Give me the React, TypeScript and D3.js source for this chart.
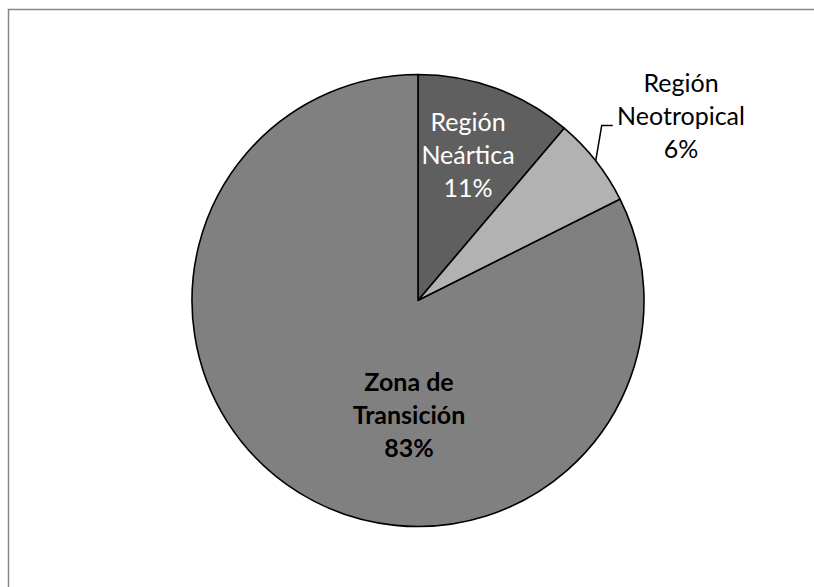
import React from "react";
import * as d3 from "d3";

const categories = ["Región Neártica", "Región Neotropical", "Zona de Transición"];
const values = [11.2, 6.4, 82.4];
const percentLabels = ["11%", "6%", "83%"];
const labelLines = [["Región", "Neártica"], ["Región", "Neotropical"], ["Zona de", "Transición"]];
const colors = ["#5f5f5f", "#b2b2b2", "#808080"];

const W = 814, H = 587;
const cx = 418, cy = 300.5, R = 226;
const FONT = "Lato, 'Open Sans', sans-serif";
const LH = 33;

export default function App() {
  const data = categories.map((c, i) => ({ c, v: values[i], i }));
  const pie = d3.pie<any>().sort(null).value((d) => d.v).startAngle(0).endAngle(2 * Math.PI);
  const arcs = pie(data);
  const arc = d3.arc<any>().innerRadius(0).outerRadius(R);

  // label anchors (first baseline of text block), relative to pie centre
  const labelPos = [
    { x: cx + 50, y: cy - 170, fill: "#ffffff", weight: 400 },
    { x: cx + 263, y: cy - 209, fill: "#000000", weight: 400 },
    { x: cx - 9, y: cy + 90, fill: "#000000", weight: 700 },
  ];

  const neo = arcs[1];
  const mid = (neo.startAngle + neo.endAngle) / 2;
  const p0 = [cx + R * Math.sin(mid), cy - R * Math.cos(mid)];
  const p1 = [p0[0] + 6, cy - 175];
  const p2 = [p1[0] + 11, p1[1]];

  return (
    <svg width={W} height={H} style={{ position: "absolute", left: 0, top: 0, background: "#fff" }}>
      <rect x={8.5} y={9.5} width={W} height={H} fill="#fff" stroke="#868686" strokeWidth={1.5} />
      <g transform={`translate(${cx},${cy})`}>
        {arcs.map((a, i) => (
          <path key={i} d={arc(a) as string} fill={colors[i]} stroke="#000" strokeWidth={1.6} strokeLinejoin="round" />
        ))}
      </g>
      <polyline points={`${p0[0]},${p0[1]} ${p1[0]},${p1[1]} ${p2[0]},${p2[1]}`} fill="none" stroke="#000" strokeWidth={1.5} />
      {labelPos.map((lp, i) => {
        const lines = [...labelLines[i], percentLabels[i]];
        return (
          <text key={i} x={lp.x} y={lp.y} textAnchor="middle" fontFamily={FONT} fontSize={25} fill={lp.fill} fontWeight={lp.weight}>
            {lines.map((t, j) => (
              <tspan key={j} x={lp.x} y={lp.y + j * LH}>{t}</tspan>
            ))}
          </text>
        );
      })}
    </svg>
  );
}
